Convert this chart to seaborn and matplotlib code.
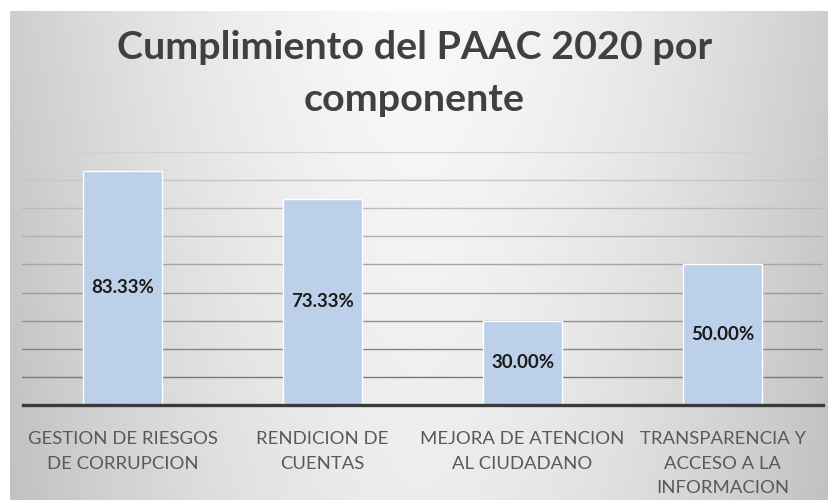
import numpy as np
import pandas as pd
import matplotlib
matplotlib.use("Agg")
import matplotlib.pyplot as plt
import seaborn as sns

categories = ["GESTION DE RIESGOS\nDE CORRUPCION", "RENDICION DE\nCUENTAS",
              "MEJORA DE ATENCION\nAL CIUDADANO", "TRANSPARENCIA Y\nACCESO A LA\nINFORMACION"]
values = [0.8333, 0.7333, 0.30, 0.50]
value_labels = ["83.33%", "73.33%", "30.00%", "50.00%"]
title = "Cumplimiento del PAAC 2020 por\ncomponente"

sns.set_theme(style="white")
plt.rcParams['font.family'] = ['Lato', 'DejaVu Sans']

W, H = 829, 500
fig = plt.figure(figsize=(W / 100, H / 100), dpi=100)
fig.patch.set_facecolor("white")

# background gradient panel
bg = fig.add_axes([10 / W, 0, 1 - 10 / W, (H - 11) / H])
bg.set_axis_off()
xs = np.linspace(-1, 1, 400)
ys = np.linspace(0, 1, 250)
X, Y = np.meshgrid(xs, ys)
val = 0.975 - 0.17 * np.abs(X) ** 1.6 - 0.05 * Y
bg.imshow(val, cmap="gray", vmin=0, vmax=1, aspect="auto", extent=[0, 1, 1, 0],
          interpolation="bilinear")
bg.set_xlim(0, 1)
bg.set_ylim(1, 0)

ax = fig.add_axes([22.5 / W, (H - 405) / H, 800 / W, (405 - 152) / H])
ax.patch.set_alpha(0)
df = pd.DataFrame({"cat": categories, "val": values})
sns.barplot(data=df, x="cat", y="val", color="#bdd0e9", width=0.395,
            edgecolor="white", linewidth=1.0, saturation=1, ax=ax, zorder=3)
ax.set_ylim(0, 0.9)
ax.set_xlim(-0.5, 3.5)
ax.set_yticks(np.arange(0.1, 0.91, 0.1))
ax.yaxis.grid(True, linewidth=1.0)
ax.set_axisbelow(True)
gl = ax.get_ygridlines()
n = len(gl)
for i, line in enumerate(gl):
    t = i / max(n - 1, 1)
    c = 0.48 + 0.34 * t
    line.set_color((c, c, c))
ax.tick_params(axis="y", left=False, labelleft=False)
ax.tick_params(axis="x", bottom=False, pad=13)
for s in ["top", "right", "left"]:
    ax.spines[s].set_visible(False)
ax.spines["bottom"].set_color("#3a3a3a")
ax.spines["bottom"].set_linewidth(2.4)
ax.spines["bottom"].set_zorder(4)
ax.set_xlabel("")
ax.set_ylabel("")
for lbl in ax.get_xticklabels():
    lbl.set_fontsize(13.3)
    lbl.set_color("#595959")
    lbl.set_linespacing(1.63)

ax.bar_label(ax.containers[0], labels=value_labels, label_type="center",
             fontsize=13.5, fontweight="bold", color="#1a1a1a")

fig.text(0.5, (H - 73.5) / H, title, ha="center", va="center", fontsize=28.4,
         fontweight="bold", color="#404040", linespacing=1.6)

fig.savefig("out.png", dpi=100)
